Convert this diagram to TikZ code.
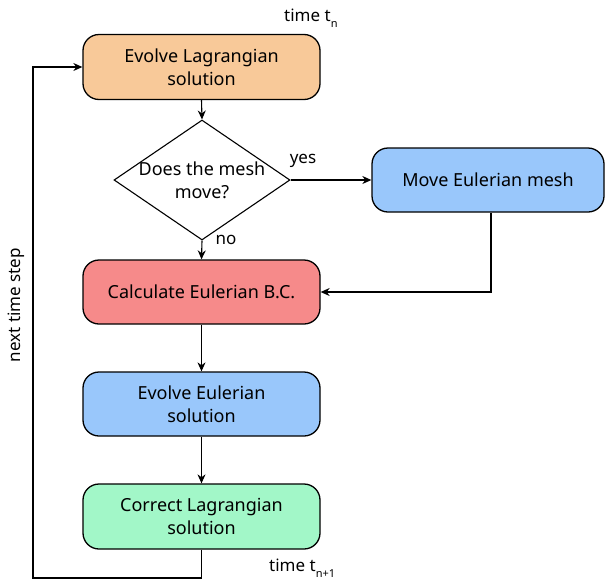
\documentclass[tikz,border=0pt]{standalone}
\usepackage{fontspec}
\setmainfont{Noto Sans}
\usetikzlibrary{shapes.geometric,arrows.meta}
\definecolor{corange}{RGB}{248,201,153}
\definecolor{cblue}{RGB}{153,199,251}
\definecolor{cred}{RGB}{246,138,138}
\definecolor{cgreen}{RGB}{162,247,200}
\tikzset{
  procbox/.style={draw=black, line width=1.3pt, rounded corners=16pt, minimum width=237pt, minimum height=65pt, align=center, inner sep=2pt, font=\fontsize{18}{23}\selectfont},
  decbox/.style={draw=black, line width=1.1pt, diamond, shape aspect=1.4667, minimum width=176pt, minimum height=120pt, inner sep=-4pt, align=center, font=\fontsize{18}{23}\selectfont},
  conn/.style={draw=black, line width=1.1pt, -{Stealth[length=9pt,width=8pt]}},
  lbl/.style={inner sep=0pt, font=\fontsize{17}{20}\selectfont}
}
\newcommand{\sbs}[1]{\raisebox{-0.7ex}{\fontsize{11}{13}\selectfont #1}}
\begin{document}
\begin{tikzpicture}[x=1pt,y=-1pt]
\useasboundingbox (0,0) rectangle (605,584);
\node[procbox, fill=corange] (evl) at (201.5,67) {Evolve Lagrangian\\solution};
\node[decbox] (dia) at (202,180) {Does the mesh\\move?};
\node[procbox, fill=cblue, minimum width=232pt, minimum height=64pt] (move) at (488,180) {Move Eulerian mesh};
\node[procbox, fill=cred, minimum height=64pt] (calc) at (201.5,292) {Calculate Eulerian B.C.};
\node[procbox, fill=cblue, minimum height=64pt] (evE) at (201.5,404) {Evolve Eulerian\\solution};
\node[procbox, fill=cgreen, minimum height=65pt] (corr) at (201.5,516.5) {Correct Lagrangian\\solution};
\coordinate (lc) at (33,578);
\coordinate (mv) at ([xshift=3pt]move.south);
\draw[conn] (evl.south) -- (dia.north);
\draw[conn] (dia.east) -- (move.west);
\draw[conn] (dia.south) -- (calc.north);
\draw[conn] (mv) |- (calc.east);
\draw[conn] (calc.south) -- (evE.north);
\draw[conn] (evE.south) -- (corr.north);
\draw[conn] (corr.south) |- (lc) |- (evl.west);
\node[lbl, anchor=west] (tn) at (284,18) {time t\sbs{n}};
\node[lbl, anchor=west] (tn1) at (269,568) {time t\sbs{n+1}};
\node[lbl] (yes) at (303,161) {yes};
\node[lbl] (no) at (226,240) {no};
\node[lbl, rotate=90] (nts) at (16,305) {next time step};
\end{tikzpicture}
\end{document}
